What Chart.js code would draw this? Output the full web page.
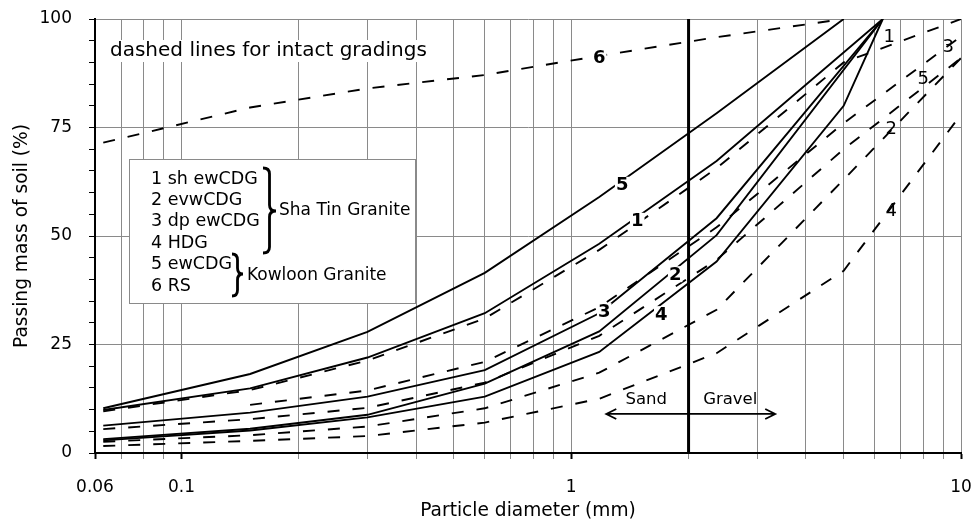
<!DOCTYPE html>
<html lang="en">
  <head>
    <meta charset="utf-8" />
    <title>Grading curves</title>
    <style>
      * {
        margin: 0;
        padding: 0;
      }
      body {
        background: #fff;
      }
    </style>
  </head>
  <body>
    <canvas id="myChart" width="971" height="522"></canvas>
    <script src="https://cdn.jsdelivr.net/npm/chart.js/dist/chart.umd.min.js"></script>
    <script>
      // sieve sizes (mm)
      const sieveSizes = [0.063, 0.15, 0.3, 0.6, 1.18, 2.36, 5, 6.3, 10];

      // solid lines (remoulded), % passing
      const solid5 = [10.3, 18.2, 27.9, 41.5, 59.0, 78.3, 100, null, null];
      const solid1 = [9.9, 14.9, 22.0, 32.2, 48.2, 67.3, null, 100, null];
      const solid3 = [6.3, 9.3, 13.0, 19.1, 32.2, 54.1, null, 100, null];
      const solid2 = [3.2, 5.6, 8.8, 16.0, 28.0, 50.2, null, 100, null];
      const solid4 = [2.9, 5.2, 8.2, 13.0, 23.3, 44.1, 80, 100, null];

      // dashed lines (intact), % passing
      const dashed6 = [71.5, 79.6, 84.0, 87.1, 91.5, 95.8, 100, null, null];
      const dashed1 = [9.6, 14.5, 21.3, 31.0, 46.8, 65.6, 90, null, 100];
      const dashed3 = [null, 11.1, 14.4, 21.0, 33.6, 52.0, 76, null, 96];
      const dashed5 = [5.5, 7.8, 10.4, 16.2, 27.0, 44.5, 70, null, 91];
      const dashed2 = [2.6, 4.1, 6.1, 10.3, 18.5, 33.0, 63, null, 91];
      const dashed4 = [1.6, 2.8, 3.9, 7.0, 12.5, 23.0, 42, null, 78];

      // axes
      const xGridValues = [
        0.06, 0.07, 0.08, 0.09, 0.1, 0.2, 0.3, 0.4, 0.5, 0.6, 0.7, 0.8, 0.9,
        1, 2, 3, 4, 5, 6, 7, 8, 9, 10,
      ];
      const xLabelValues = [0.06, 0.1, 1, 10];
      const yTickValues = [
        0, 5, 10, 15, 20, 25, 30, 35, 40, 45, 50, 55, 60, 65, 70, 75, 80, 85,
        90, 95, 100,
      ];
      const sandGravelBoundary = 2;

      // legend text
      const legendLines = [
        "1 sh ewCDG",
        "2 evwCDG",
        "3 dp ewCDG",
        "4 HDG",
        "5 ewCDG",
        "6 RS",
      ];

      // labels on the curves (data coordinates)
      const curveLabels = [
        { text: "6", x: 1.18, y: 91.2, bold: true },
        { text: "5", x: 1.351, y: 61.8, bold: true },
        { text: "1", x: 1.477, y: 53.5, bold: true },
        { text: "3", x: 1.215, y: 32.7, bold: true },
        { text: "2", x: 1.848, y: 41.2, bold: true },
        { text: "4", x: 1.702, y: 32.0, bold: true },
        { text: "1", x: 6.54, y: 96.1, bold: false },
        { text: "3", x: 9.27, y: 93.8, bold: false },
        { text: "5", x: 8.0, y: 86.4, bold: false },
        { text: "2", x: 6.62, y: 74.9, bold: false },
        { text: "4", x: 6.62, y: 55.8, bold: false },
      ];

      const FONT = "DejaVu Sans";
      Chart.defaults.font.family = FONT;
      Chart.defaults.color = "#000";

      const toPoints = (vals) =>
        sieveSizes.map((s, i) => ({ x: s, y: vals[i] }));

      const solidSet = (vals) => ({
        data: toPoints(vals),
        borderColor: "#000",
        borderWidth: 1.9,
        spanGaps: true,
        pointRadius: 0,
        tension: 0,
        fill: false,
      });
      const dashedSet = (vals) => ({
        ...solidSet(vals),
        borderDash: [12, 13],
      });

      function brace(ctx, x0, top, bottom, mid, w) {
        const xm = x0 + w / 2;
        const r = Math.min(6, (bottom - top) / 6);
        ctx.beginPath();
        ctx.moveTo(x0, top);
        ctx.quadraticCurveTo(xm, top, xm, top + r);
        ctx.lineTo(xm, mid - r);
        ctx.quadraticCurveTo(xm, mid, x0 + w, mid);
        ctx.quadraticCurveTo(xm, mid, xm, mid + r);
        ctx.lineTo(xm, bottom - r);
        ctx.quadraticCurveTo(xm, bottom, x0, bottom);
        ctx.stroke();
      }

      const annotations = {
        id: "annotations",
        afterDatasetsDraw(chart) {
          const { ctx, chartArea } = chart;
          const xs = chart.scales.x;
          const ys = chart.scales.y;
          const px = (v) => xs.getPixelForValue(v);
          const py = (v) => ys.getPixelForValue(v);
          ctx.save();

          // sand / gravel boundary
          ctx.strokeStyle = "#000";
          ctx.lineWidth = 3;
          ctx.beginPath();
          ctx.moveTo(px(sandGravelBoundary), chartArea.top);
          ctx.lineTo(px(sandGravelBoundary), chartArea.bottom);
          ctx.stroke();

          // arrow
          const ay = py(9);
          const ax1 = px(1.23);
          const ax2 = px(3.337);
          ctx.lineWidth = 1.8;
          ctx.beginPath();
          ctx.moveTo(ax1, ay);
          ctx.lineTo(ax2, ay);
          ctx.moveTo(ax1 + 10, ay - 5);
          ctx.lineTo(ax1, ay);
          ctx.lineTo(ax1 + 10, ay + 5);
          ctx.moveTo(ax2 - 10, ay - 5);
          ctx.lineTo(ax2, ay);
          ctx.lineTo(ax2 - 10, ay + 5);
          ctx.stroke();

          ctx.fillStyle = "#000";
          ctx.font = `16.5px "${FONT}"`;
          ctx.textAlign = "center";
          ctx.textBaseline = "middle";
          ctx.fillText("Sand", px(1.557), py(12.2));
          ctx.fillText("Gravel", px(2.558), py(12.2));

          // note
          ctx.font = `20px "${FONT}"`;
          ctx.textAlign = "left";
          const note = "dashed lines for intact gradings";
          const nx = chartArea.left + 15;
          const ny = chartArea.top + 32;
          const nw = ctx.measureText(note).width;
          ctx.fillStyle = "#fff";
          ctx.fillRect(nx - 2, ny - 11, nw + 4, 22);
          ctx.fillStyle = "#000";
          ctx.fillText(note, nx, ny);

          // legend box
          const bx = chartArea.left + 34;
          const by = chartArea.top + 140;
          ctx.fillStyle = "#fff";
          ctx.fillRect(bx, by, 286, 144);
          ctx.strokeStyle = "#8a8a8a";
          ctx.lineWidth = 1;
          ctx.strokeRect(bx + 0.5, by + 0.5, 286, 144);

          ctx.fillStyle = "#000";
          ctx.font = `17.5px "${FONT}"`;
          legendLines.forEach((t, i) => {
            ctx.fillText(t, bx + 22, by + 20 + i * 21.4);
          });
          ctx.strokeStyle = "#000";
          ctx.lineWidth = 2.8;
          brace(ctx, bx + 134, by + 9, by + 94, by + 52, 13);
          brace(ctx, bx + 103, by + 95, by + 137, by + 115, 11);
          ctx.font = `17px "${FONT}"`;
          ctx.fillText("Sha Tin Granite", bx + 150, by + 52);
          ctx.fillText("Kowloon Granite", bx + 118, by + 117);

          // curve labels
          ctx.textAlign = "center";
          curveLabels.forEach((l) => {
            ctx.font = `${l.bold ? "bold " : ""}18px "${FONT}"`;
            const x = px(l.x);
            const y = py(l.y);
            if (l.bold) {
              const w = ctx.measureText(l.text).width;
              ctx.fillStyle = "#fff";
              ctx.fillRect(x - w / 2 - 1, y - 8, w + 2, 16);
            }
            ctx.fillStyle = "#000";
            ctx.fillText(l.text, x, y + 1);
          });

          ctx.restore();
        },
      };

      const config = {
        type: "line",
        data: {
          datasets: [
            solidSet(solid5),
            solidSet(solid1),
            solidSet(solid3),
            solidSet(solid2),
            solidSet(solid4),
            dashedSet(dashed6),
            dashedSet(dashed1),
            dashedSet(dashed3),
            dashedSet(dashed5),
            dashedSet(dashed2),
            dashedSet(dashed4),
          ],
        },
        options: {
          responsive: false,
          animation: false,
          layout: { padding: { left: 0, right: 10, top: 19, bottom: 0 } },
          plugins: {
            legend: { display: false },
            tooltip: { enabled: false },
          },
          scales: {
            x: {
              type: "logarithmic",
              min: 0.06,
              max: 10,
              afterBuildTicks(s) {
                s.ticks = xGridValues.map((v) => ({ value: v }));
              },
              afterFit(s) {
                s.height = 69;
                s.paddingLeft = 0;
                s.paddingRight = 0;
              },
              ticks: {
                autoSkip: false,
                maxRotation: 0,
                padding: 18,
                color: "#000",
                font: { size: 17 },
                callback: (v) => (xLabelValues.includes(v) ? String(v) : ""),
              },
              grid: {
                color: "#8a8a8a",
                lineWidth: 1,
                tickLength: 6,
                tickColor: (c) =>
                  c.tick && xLabelValues.includes(c.tick.value)
                    ? "#000"
                    : "#8a8a8a",
                tickWidth: (c) =>
                  c.tick && xLabelValues.includes(c.tick.value) ? 2 : 1,
              },
              border: { color: "#000", width: 2 },
              title: {
                display: true,
                text: "Particle diameter (mm)",
                color: "#000",
                font: { size: 18.6 },
                padding: { top: 0, bottom: 0 },
              },
            },
            y: {
              min: 0,
              max: 100,
              afterBuildTicks(s) {
                s.ticks = yTickValues.map((v) => ({ value: v }));
              },
              afterFit(s) {
                s.width = 95;
                s.paddingTop = 0;
                s.paddingBottom = 0;
              },
              ticks: {
                autoSkip: false,
                padding: 17,
                color: "#000",
                font: { size: 17 },
                callback: (v) => (v % 25 === 0 ? String(v) : ""),
              },
              grid: {
                color: (c) =>
                  c.tick && c.tick.value % 25 === 0
                    ? "#8a8a8a"
                    : "rgba(0,0,0,0)",
                lineWidth: 1,
                tickLength: 6,
                tickColor: "#000",
              },
              border: { color: "#000", width: 2 },
              title: {
                display: true,
                text: "Passing mass of soil (%)",
                color: "#000",
                font: { size: 18.6 },
                padding: { top: 11, bottom: 0 },
              },
            },
          },
        },
        plugins: [annotations],
      };

      const myChart = new Chart(document.getElementById("myChart"), config);
    </script>
  </body>
</html>
